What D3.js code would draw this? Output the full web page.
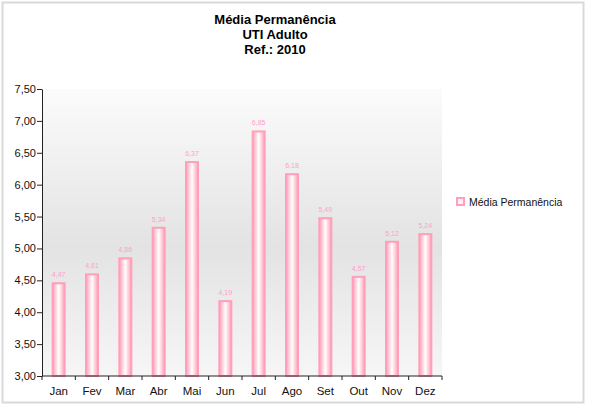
<!DOCTYPE html>
<html>
<head>
<meta charset="utf-8">
<script src="https://cdn.jsdelivr.net/npm/d3@7"></script>
<style>
  body { margin: 0; background: white; }
  text { font-family: "Liberation Sans", Arial, sans-serif; }
</style>
</head>
<body>
<svg id="chart" width="598" height="406"></svg>
<script>
//Data
var months = ["Jan", "Fev", "Mar", "Abr", "Mai", "Jun", "Jul", "Ago", "Set", "Out", "Nov", "Dez"];
var values = [4.47, 4.61, 4.86, 5.34, 6.37, 4.19, 6.85, 6.18, 5.49, 4.57, 5.12, 5.24];
var yTicks = [3.0, 3.5, 4.0, 4.5, 5.0, 5.5, 6.0, 6.5, 7.0, 7.5];
var titleLines = ["Média Permanência", "UTI Adulto", "Ref.: 2010"];
var seriesName = "Média Permanência";

var fmt = function(v){ return v.toFixed(2).replace(".", ","); };

var dimensions = {
    width: 598,
    height: 406,
    margin: { top: 89, bottom: 30, right: 155, left: 42 }
};

var svg = d3.select("#chart");
var defs = svg.append("defs");

//Plot background gradient
var bg = defs.append("linearGradient")
             .attr("id", "bgGrad")
             .attr("x1", 0).attr("y1", 0).attr("x2", 0).attr("y2", 1);
bg.append("stop").attr("offset", "0%").attr("stop-color", "#fbfbfb");
bg.append("stop").attr("offset", "55%").attr("stop-color", "#e3e3e3");
bg.append("stop").attr("offset", "100%").attr("stop-color", "#f6f6f6");

//Bar gradient
var bar = defs.append("linearGradient")
              .attr("id", "barGrad")
              .attr("x1", 0).attr("y1", 0).attr("x2", 1).attr("y2", 0);
bar.append("stop").attr("offset", "0%").attr("stop-color", "#ff9fb4");
bar.append("stop").attr("offset", "50%").attr("stop-color", "#ffffff");
bar.append("stop").attr("offset", "100%").attr("stop-color", "#ff9fb4");

//Outer border
svg.append("rect")
   .attr("x", 2.5).attr("y", 2.5)
   .attr("width", 581).attr("height", 400)
   .attr("fill", "white")
   .attr("stroke", "#d9d9d9")
   .attr("stroke-width", 2);

var x0 = dimensions.margin.left;
var x1 = dimensions.width - dimensions.margin.right - 1;
var yBottom = dimensions.height - dimensions.margin.bottom;

//Scales
var xScale = d3.scaleBand()
               .domain(months)
               .range([x0, x1])
               .paddingInner(0.58)
               .paddingOuter(0.29);

var xBands = d3.scaleBand().domain(months).range([x0, x1]);

var yScale = d3.scaleLinear()
               .domain([3, 7.5])
               .range([yBottom, dimensions.margin.top]);

//Background
svg.append("rect")
   .attr("x", x0)
   .attr("y", yScale(7.5))
   .attr("width", x1 - x0)
   .attr("height", yScale(3) - yScale(7.5))
   .attr("fill", "url(#bgGrad)");

//Bars
svg.append("g")
   .selectAll("rect")
   .data(values)
   .enter()
   .append("rect")
   .attr("x", function(d, i){ return xScale(months[i]) + 1; })
   .attr("y", function(d){ return yScale(d) + 1; })
   .attr("width", xScale.bandwidth() - 2)
   .attr("height", function(d){ return yScale(3) - yScale(d) - 1; })
   .attr("fill", "url(#barGrad)")
   .attr("stroke", "#ff9fbd")
   .attr("stroke-width", 2);

//Value labels
svg.append("g")
   .selectAll("text")
   .data(values)
   .enter()
   .append("text")
   .attr("x", function(d, i){ return xScale(months[i]) + xScale.bandwidth() / 2; })
   .attr("y", function(d){ return yScale(d) - 5; })
   .attr("text-anchor", "middle")
   .style("font-size", "7px")
   .style("fill", "#ff9fcc")
   .text(function(d){ return fmt(d); });

//Y-axis
var yAxis = svg.append("g")
               .attr("transform", "translate(" + x0 + ",0)")
               .call(d3.axisLeft(yScale).tickValues(yTicks).tickSize(5).tickSizeOuter(0).tickFormat(fmt));
yAxis.select(".domain").attr("stroke", "#222");
yAxis.selectAll("line").attr("stroke", "#222");
yAxis.selectAll("text").style("font-size", "11px").style("fill", "#111").attr("x", -6);

//X-axis
var xAxis = svg.append("g")
               .attr("transform", "translate(0," + yBottom + ")");
xAxis.append("line")
     .attr("x1", x0).attr("x2", x1)
     .attr("stroke", "#222");
xAxis.selectAll(".tk")
     .data(months.concat(["end"]))
     .enter()
     .append("line")
     .attr("x1", function(d, i){ return i < months.length ? xBands(d) : x1; })
     .attr("x2", function(d, i){ return i < months.length ? xBands(d) : x1; })
     .attr("y1", 0).attr("y2", 4)
     .attr("stroke", "#222");
xAxis.selectAll("text")
     .data(months)
     .enter()
     .append("text")
     .attr("x", function(d){ return xBands(d) + xBands.bandwidth() / 2; })
     .attr("y", 19)
     .attr("text-anchor", "middle")
     .style("font-size", "11.5px")
     .style("fill", "#111")
     .text(function(d){ return d; });

//Title
svg.append("g")
   .selectAll("text")
   .data(titleLines)
   .enter()
   .append("text")
   .attr("x", 275)
   .attr("y", function(d, i){ return 24 + i * 15; })
   .attr("text-anchor", "middle")
   .style("font-size", "13px")
   .style("font-weight", "bold")
   .style("fill", "#000")
   .text(function(d){ return d; });

//Legend
svg.append("rect")
   .attr("x", 457).attr("y", 198)
   .attr("width", 7).attr("height", 7)
   .attr("fill", "#fff0f4")
   .attr("stroke", "#ff9fbd")
   .attr("stroke-width", 2);
svg.append("text")
   .attr("x", 469).attr("y", 206)
   .style("font-size", "10.5px")
   .style("fill", "#111")
   .text(seriesName);
</script>
</body>
</html>
